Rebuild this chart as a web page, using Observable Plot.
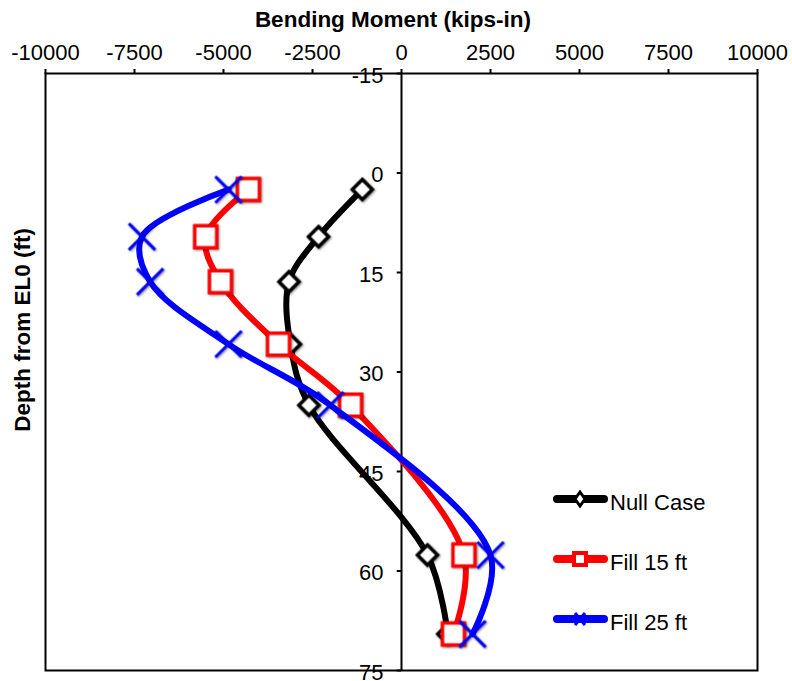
<!DOCTYPE html>
<html><head><meta charset="utf-8">
<script src="https://cdn.jsdelivr.net/npm/d3@7"></script>
<script src="https://cdn.jsdelivr.net/npm/@observablehq/plot@0.6"></script>
<style>
body{margin:0;background:#fff;}
#chart{position:relative;width:792px;height:681px;overflow:hidden;}
</style></head><body><div id="chart"></div>
<script>
// ---- data ----
const depths   = [2.5, 9.6, 16.4, 25.8, 35.0, 57.6, 69.5];
const nullCase = [-1100, -2330, -3160, -3120, -2600, 730, 1300];
const fill15   = [-4300, -5500, -5085, -3455, -1430, 1755, 1460];
const fill25   = [-4860, -7290, -7060, -4860, -2000, 2500, 1994];
const seriesNames = ["Null Case", "Fill 15 ft", "Fill 25 ft"];
const seriesColors = ["#000000", "#ff0000", "#0000ff"];
const seriesSymbols = ["diamond2", "square2", "times"];
const xTicks = [-10000, -7500, -5000, -2500, 0, 2500, 5000, 7500, 10000];
const yTicks = [-15, 0, 15, 30, 45, 60, 75];
const xLabel = "Bending Moment (kips-in)";
const yLabel = "Depth from EL0 (ft)";

const seriesValues = [nullCase, fill15, fill25];
const rows = seriesValues.map((vals, i) =>
  vals.map((v, j) => ({series: seriesNames[i], moment: v, depth: depths[j]})));

const symR = [9, 14, 12];
const symFill = ["white", "white", "none"];
const symStrokeW = [3.5, 3.5, 3];

const marks = [
  Plot.frame({stroke: "black", strokeWidth: 2}),
  Plot.axisX(xTicks, {anchor: "top", tickSize: 5, tickPadding: 9, strokeWidth: 2,
    tickFormat: d => String(d), label: null, fontSize: 22}),
  Plot.ruleX([0], {stroke: "black", strokeWidth: 2}),
  Plot.ruleY(yTicks, {y: d => d, x1: -120, x2: 0, stroke: "black", strokeWidth: 2}),
  Plot.text(yTicks, {x: 0, y: d => d, text: d => String(d), textAnchor: "end",
    dx: -18, dy: 2, fontSize: 22, fill: "black"})
];
rows.forEach((r, i) => {
  marks.push(Plot.line(r, {x: "moment", y: "depth", stroke: seriesColors[i], strokeWidth: 6,
    curve: "catmull-rom", strokeLinejoin: "round", strokeLinecap: "round"}));
  marks.push(Plot.dot(r, {x: "moment", y: "depth", symbol: seriesSymbols[i], r: symR[i],
    stroke: seriesColors[i], fill: symFill[i], strokeWidth: symStrokeW[i]}));
});

const svg = Plot.plot({
  width: 792, height: 681,
  marginTop: 73, marginBottom: 11, marginLeft: 45, marginRight: 35,
  x: {domain: [-10000, 10000]},
  y: {domain: [-15, 75], reverse: true, axis: null},
  style: {fontFamily: "'Liberation Sans', Arial, sans-serif", fontSize: "22px", color: "black", background: "white", overflow: "visible"},
  marks
});
document.getElementById("chart").appendChild(svg);

const s = d3.select(svg);
s.selectAll('g[aria-label="dot"]').style("filter", "drop-shadow(1px 1px 1.2px rgba(0,0,0,0.45))");

// title and y label
s.append("text").attr("x", 393).attr("y", 27).attr("text-anchor", "middle")
  .attr("font-weight", "bold").attr("font-size", 22.5).attr("fill", "black").text(xLabel);
s.append("text").attr("transform", "translate(30,330) rotate(-90)").attr("text-anchor", "middle")
  .attr("font-weight", "bold").attr("font-size", 22.5).attr("fill", "black").text(yLabel);

// legend
const lg = s.append("g").attr("aria-label", "legend");
const legendY = [499, 559, 619];
seriesNames.forEach((name, i) => {
  const y = legendY[i];
  lg.append("line").attr("x1", 557).attr("x2", 604).attr("y1", y).attr("y2", y)
    .attr("stroke", seriesColors[i]).attr("stroke-width", 8).attr("stroke-linecap", "round");
  if (i === 0) {
    lg.append("path").attr("d", `M580,${y-7}L585,${y}L580,${y+7}L575,${y}Z`)
      .attr("fill", "white").attr("stroke", "black").attr("stroke-width", 3);
  } else if (i === 1) {
    lg.append("rect").attr("x", 574).attr("y", y-6).attr("width", 12).attr("height", 12)
      .attr("fill", "white").attr("stroke", "red").attr("stroke-width", 4);
  } else {
    lg.append("path").attr("d", `M575,${y-6}L585,${y+6}M575,${y+6}L585,${y-6}`)
      .attr("stroke", "blue").attr("stroke-width", 3);
  }
  lg.append("text").attr("x", 610).attr("y", y + 11).attr("font-size", 22)
    .attr("text-anchor", "start").attr("fill", "black").text(name);
});
</script></body></html>
